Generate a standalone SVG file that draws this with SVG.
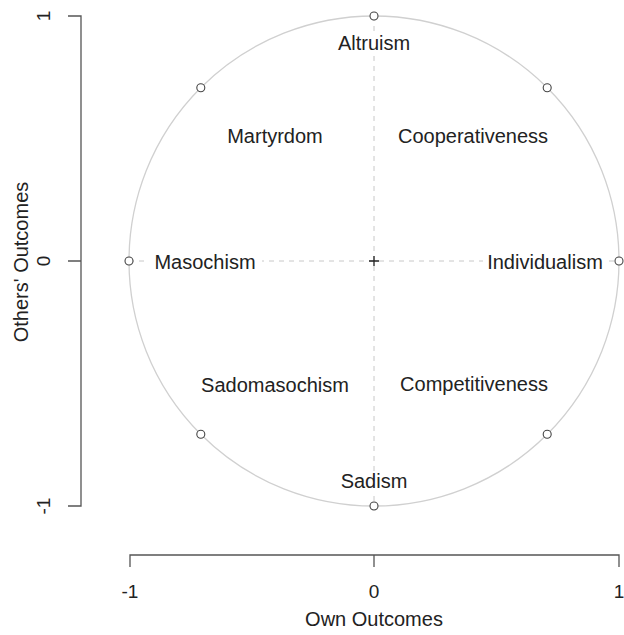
<svg xmlns="http://www.w3.org/2000/svg" width="624" height="635" viewBox="0 0 624 635">
<style>
.lbl{font-family:"Liberation Sans",Arial,sans-serif;font-size:20px;fill:#222;text-anchor:middle}
.tick{font-family:"Liberation Sans",Arial,sans-serif;font-size:19px;fill:#222;text-anchor:middle}
.ax{stroke:#555;stroke-width:1.3;fill:none}
.dash{stroke:#c8c8c8;stroke-width:1;stroke-dasharray:5,5;fill:none}
.pt{fill:#fff;stroke:#444;stroke-width:1.1}
.bg{fill:#fff}
</style>
<rect width="624" height="635" fill="#fff"/>
<g id="axes">
<path class="ax" d="M68,16H81V506H68M68,261H81"/>
<path class="ax" d="M130,567V555H619V567M374,555V567"/>
<text class="tick" transform="translate(50,16) rotate(-90)">1</text>
<text class="tick" transform="translate(50,261) rotate(-90)">0</text>
<text class="tick" transform="translate(50,506) rotate(-90)">-1</text>
<text class="tick" x="130" y="598">-1</text>
<text class="tick" x="374" y="598">0</text>
<text class="tick" x="619" y="598">1</text>
<text class="lbl" x="374" y="626">Own Outcomes</text>
<text class="lbl" transform="translate(28,262) rotate(-90)">Others' Outcomes</text>
</g>
<g id="connectors">
<circle cx="374" cy="261" r="245" fill="none" stroke="#d0d0d0" stroke-width="1.3"/>
<path class="dash" d="M374,16V506M129,261H619"/>
<path d="M369,261H379M374,256V266" stroke="#222" stroke-width="1.3"/>
</g>
<g id="points">
<circle class="pt" cx="374" cy="16" r="4"/>
<circle class="pt" cx="547.2" cy="87.8" r="4"/>
<circle class="pt" cx="619" cy="261" r="4"/>
<circle class="pt" cx="547.2" cy="434.2" r="4"/>
<circle class="pt" cx="374" cy="506" r="4"/>
<circle class="pt" cx="200.8" cy="434.2" r="4"/>
<circle class="pt" cx="129" cy="261" r="4"/>
<circle class="pt" cx="200.8" cy="87.8" r="4"/>
</g>
<g id="altruism"><rect class="bg" x="336" y="33" width="76" height="20"/><text class="lbl" x="374" y="50">Altruism</text></g>
<g id="cooperativeness"><text class="lbl" x="473" y="143">Cooperativeness</text></g>
<g id="martyrdom"><text class="lbl" x="275" y="143">Martyrdom</text></g>
<g id="masochism"><rect class="bg" x="148" y="251" width="114" height="20"/><text class="lbl" x="205" y="269">Masochism</text></g>
<g id="individualism"><rect class="bg" x="483" y="251" width="124" height="20"/><text class="lbl" x="545" y="269">Individualism</text></g>
<g id="sadomasochism"><text class="lbl" x="275" y="392">Sadomasochism</text></g>
<g id="competitiveness"><text class="lbl" x="474" y="391">Competitiveness</text></g>
<g id="sadism"><rect class="bg" x="340" y="471" width="68" height="20"/><text class="lbl" x="374" y="488">Sadism</text></g>
</svg>
